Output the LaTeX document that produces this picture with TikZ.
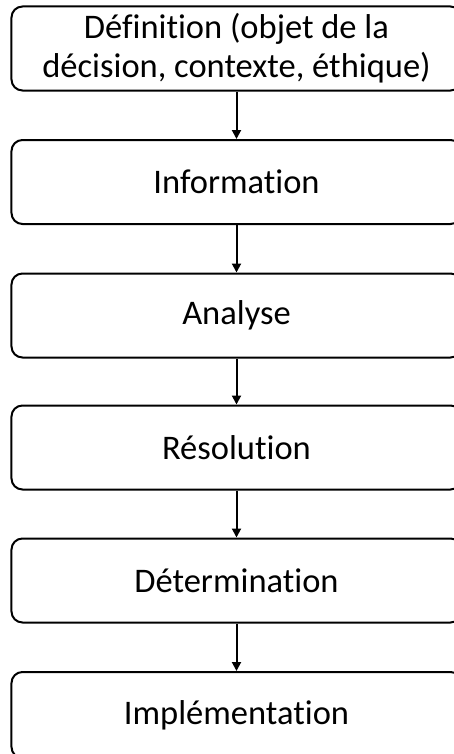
\documentclass[tikz,border=0pt]{standalone}
\usepackage{fontspec}
\setmainfont[Ligatures={NoCommon,NoRequired,NoContextual}]{Carlito}
\usetikzlibrary{arrows.meta}
\begin{document}
\begin{tikzpicture}[x=1bp,y=-1bp,
  stepbox/.style={draw=black, line width=2bp, rounded corners=11bp, minimum width=450bp, minimum height=84bp, inner sep=0pt, align=center, font=\fontsize{34.5bp}{39bp}\selectfont},
  flow/.style={draw=black, line width=2bp, -{Triangle[length=9bp,width=9bp]}}]
\useasboundingbox (0,0) rectangle (454,754);
\clip (0,0) rectangle (454,754);
\node[stepbox] (b1) at (236.5,48.5) {Définition (objet de la\\décision, contexte, éthique)};
\node[stepbox] (b2) at (236.5,182) {Information};
\node[stepbox] (b3) at (236.5,315.5) {Analyse};
\node[stepbox] (b4) at (236.5,447.5) {Résolution};
\node[stepbox] (b5) at (236.5,580.5) {Détermination};
\node[stepbox, minimum height=86bp] (b6) at (236.5,715) {Implémentation};
\draw[flow] (b1) -- (b2);
\draw[flow] (b2) -- (b3);
\draw[flow] (b3) -- (b4);
\draw[flow] (b4) -- (b5);
\draw[flow] (b5) -- (b6);
\end{tikzpicture}
\end{document}
